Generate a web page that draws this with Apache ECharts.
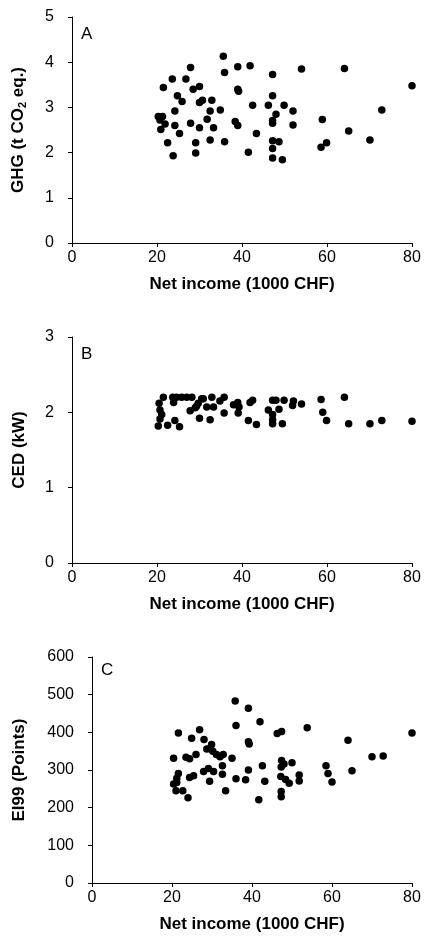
<!DOCTYPE html>
<html><head><meta charset="utf-8">
<style>html,body{margin:0;padding:0;background:#fff}#c{width:426px;height:940px}</style>
<script src="https://cdn.jsdelivr.net/npm/echarts@6/dist/echarts.min.js"></script>
</head><body><div id="c"></div>
<script>
// Panel A: GHG (t CO2 eq.) vs net income
const incomeA = [35.6,39.0,41.9,27.9,47.2,54.0,64.1,80.0,35.9,23.6,26.8,21.5,28.5,30.0,39.0,39.2,24.8,47.2,25.9,30.0,30.7,32.9,42.5,46.2,49.9,24.2,32.5,34.9,52.0,72.9,20.3,21.3,20.7,21.9,20.9,24.2,31.8,27.9,30.0,33.3,38.4,39.0,48.0,47.2,47.2,52.0,58.9,25.3,43.4,65.1,22.5,29.1,32.5,35.9,47.2,48.7,70.1,47.2,58.6,59.9,23.8,29.1,41.5,47.2,49.5];
const ghg = [4.13,3.90,3.92,3.88,3.73,3.85,3.86,3.48,3.77,3.63,3.63,3.44,3.40,3.46,3.40,3.36,3.26,3.26,3.13,3.11,3.16,3.16,3.05,3.05,3.05,2.92,2.92,2.94,2.92,2.94,2.80,2.80,2.72,2.63,2.51,2.60,2.74,2.65,2.55,2.55,2.69,2.60,2.85,2.71,2.65,2.61,2.73,2.42,2.42,2.48,2.22,2.22,2.28,2.24,2.26,2.24,2.28,2.09,2.12,2.22,1.93,1.99,2.01,1.88,1.84];
// Panel B: CED (kW) vs net income
const incomeB = [21.5,23.7,24.6,25.8,27.0,28.2,30.5,30.9,32.9,35.8,34.8,20.5,23.9,29.7,39.0,39.3,38.0,41.9,42.5,47.2,48.0,49.9,52.1,51.9,54.0,58.6,64.1,31.7,33.3,29.3,27.8,29.0,20.7,21.1,20.7,46.2,48.7,47.2,59.0,35.8,39.1,30.0,32.5,24.2,41.5,59.9,72.9,80.0,70.1,65.1,47.2,49.5,43.4,20.3,22.5,25.3,47.2];
const ced = [2.20,2.20,2.20,2.20,2.20,2.20,2.18,2.18,2.20,2.20,2.15,2.12,2.13,2.12,2.13,2.07,2.10,2.13,2.16,2.16,2.16,2.16,2.15,2.09,2.11,2.17,2.20,2.07,2.07,2.08,2.02,2.06,2.03,1.97,1.91,2.03,2.04,1.97,2.00,1.99,1.99,1.92,1.90,1.89,1.89,1.89,1.89,1.88,1.85,1.85,1.85,1.85,1.84,1.82,1.83,1.81,1.90];
// Panel C: EI99 (Points) vs net income
const incomeC = [35.8,39.1,42.0,36.0,53.8,21.6,26.9,46.3,47.4,80.0,64.0,24.9,28.0,39.1,39.3,29.9,28.7,29.5,30.2,31.1,32.8,32.0,20.4,23.5,24.4,26.0,35.0,70.0,72.8,47.4,48.0,50.0,32.6,42.6,58.5,47.3,39.1,29.1,27.9,30.4,65.0,21.6,59.0,25.4,24.4,32.6,36.0,38.4,47.2,48.4,49.3,51.8,51.8,21.2,21.2,20.4,29.4,43.2,60.0,21.0,22.7,33.4,47.3,47.3,24.0,41.7];
const ei99 = [483,464,428,418,412,398,407,397,402,398,379,384,381,375,369,368,356,357,350,341,341,335,331,334,330,341,331,335,337,325,316,319,311,311,311,308,300,304,296,296,298,291,291,285,280,289,277,274,283,275,265,287,271,278,267,263,270,270,268,245,245,245,243,229,226,221];
const xTicks = [0,20,40,60,80];

const FONT = 'Liberation Sans, Arial, sans-serif';
const pair = (xs, ys) => xs.map((x, i) => [x, ys[i]]);

function xAxis(gi) {
  return {
    gridIndex: gi, type: 'value', min: xTicks[0], max: xTicks[xTicks.length - 1], interval: xTicks[1] - xTicks[0],
    name: 'Net income (1000 CHF)', nameLocation: 'middle', nameGap: 33,
    nameTextStyle: {fontFamily: FONT, fontWeight: 'bold', fontSize: 17, color: '#000'},
    axisLine: {show: true, lineStyle: {color: '#000', width: 1}},
    axisTick: {show: true, inside: false, length: 4, lineStyle: {color: '#000'}},
    axisLabel: {fontFamily: FONT, fontSize: 16, color: '#000', margin: 7},
    splitLine: {show: false}
  };
}
function yAxis(gi, min, max, interval, name, gap, rich) {
  const o = {
    gridIndex: gi, type: 'value', min: min, max: max, interval: interval,
    name: name, nameLocation: 'middle', nameGap: gap,
    nameTextStyle: {fontFamily: FONT, fontWeight: 'bold', fontSize: 17, color: '#000'},
    axisLine: {show: true, lineStyle: {color: '#000', width: 1}},
    axisTick: {show: true, inside: false, length: 4, lineStyle: {color: '#000'}},
    axisLabel: {fontFamily: FONT, fontSize: 16, color: '#000', margin: 18},
    splitLine: {show: false}
  };
  if (rich) o.nameTextStyle.rich = rich;
  return o;
}
const subRich = {
  a: {fontFamily: FONT, fontWeight: 'bold', fontSize: 17, color: '#000', lineHeight: 20},
  s: {fontFamily: FONT, fontWeight: 'bold', fontSize: 11, color: '#000', verticalAlign: 'bottom', lineHeight: 14, padding: [6, 0, 0, 0]}
};

const sym = {type: 'scatter', symbol: 'circle', symbolSize: 7.5, clip: false, itemStyle: {color: '#000', opacity: 1}, silent: true, animation: false};
const letter = (txt, x, y) => ({type: 'text', left: x, top: y, style: {text: txt, font: '17px ' + FONT, fill: '#000'}});

const chart = echarts.init(document.getElementById('c'));
chart.setOption({
  animation: false,
  backgroundColor: '#fff',
  grid: [
    {left: 72, top: 17, width: 340, height: 226},
    {left: 72, top: 337, width: 340, height: 226},
    {left: 92, top: 657, width: 320, height: 226}
  ],
  xAxis: [xAxis(0), xAxis(1), xAxis(2)],
  yAxis: [
    yAxis(0, 0, 5, 1, '{a|GHG (t CO}{s|2}{a| eq.)}', 44, subRich),
    yAxis(1, 0, 3, 1, 'CED (kW)', 44),
    yAxis(2, 0, 600, 100, 'EI99 (Points)', 64)
  ],
  series: [
    Object.assign({}, sym, {xAxisIndex: 0, yAxisIndex: 0, data: pair(incomeA, ghg)}),
    Object.assign({}, sym, {xAxisIndex: 1, yAxisIndex: 1, data: pair(incomeB, ced)}),
    Object.assign({}, sym, {xAxisIndex: 2, yAxisIndex: 2, data: pair(incomeC, ei99)})
  ],
  graphic: [letter('A', 81, 26), letter('B', 81, 346), letter('C', 101, 662)]
});
</script></body></html>
